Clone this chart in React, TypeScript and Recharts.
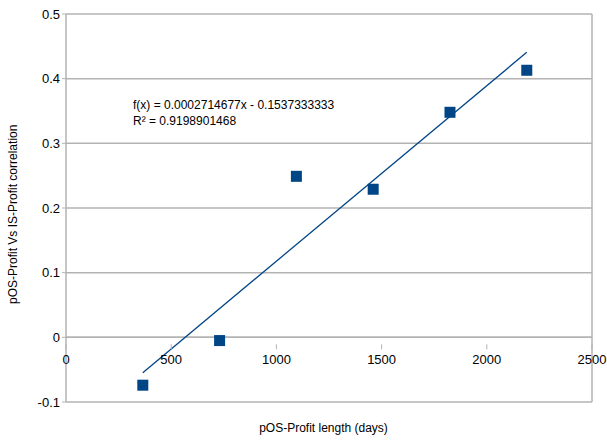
import {
  ScatterChart,
  Scatter,
  XAxis,
  YAxis,
  CartesianGrid,
  ReferenceLine,
} from "recharts";

const lengthDays = [365, 730, 1095, 1460, 1825, 2190];
const correlation = [-0.074, -0.005, 0.249, 0.229, 0.348, 0.413];
const xTicks = [0, 500, 1000, 1500, 2000, 2500];
const yTicks = [-0.1, 0, 0.1, 0.2, 0.3, 0.4, 0.5];

// trend line coefficients as reported on the chart
const slope = 0.0002714677;
const intercept = -0.1537333333;
const r2 = 0.9198901468;

const W = 607;
const H = 444;
const PLOT_TOP = 14;
const PLOT_BOTTOM = 42;
const PLOT_H = H - PLOT_TOP - PLOT_BOTTOM;
// x axis crosses at y = 0, one sixth of the plot height above the bottom
const ZERO_SHIFT = PLOT_H / 6;

const FONT = "'Liberation Sans', Arial, sans-serif";
const BLUE = "#004586";
const GRID = "#b3b3b3";

const points = lengthDays.map((x, i) => ({ x, y: correlation[i] }));
const trend = [lengthDays[0], lengthDays[lengthDays.length - 1]].map((x) => ({
  x,
  y: slope * x + intercept,
}));

function XTick(props: any) {
  const { x, y, payload } = props;
  const y0 = y - ZERO_SHIFT;
  return (
    <g>
      <line x1={x} x2={x} y1={y0 - 1} y2={y0 + 4} stroke={GRID} strokeWidth={1} />
      <text x={x} y={y0 + 19} textAnchor="middle" fontSize={13} fill="#000" fontFamily={FONT}>
        {payload.value}
      </text>
    </g>
  );
}

function Square(props: any) {
  const { cx, cy } = props;
  if (cx == null || cy == null) return null;
  return <rect x={cx - 5.5} y={cy - 5.5} width={11} height={11} fill={BLUE} />;
}

export default function App() {
  return (
    <div style={{ position: "absolute", left: 0, top: 0, width: W, height: H, background: "#fff" }}>
      <ScatterChart
        width={W}
        height={H}
        margin={{ top: PLOT_TOP, right: 15, bottom: PLOT_BOTTOM - 30, left: 0 }}
      >
        <CartesianGrid vertical={false} stroke={GRID} strokeWidth={1.5} />
        <XAxis
          type="number"
          dataKey="x"
          domain={[0, 2500]}
          ticks={xTicks}
          height={30}
          axisLine={false}
          tickLine={false}
          tick={<XTick />}
          interval={0}
        />
        <YAxis
          type="number"
          dataKey="y"
          domain={[-0.1, 0.5]}
          ticks={yTicks}
          width={66}
          interval={0}
          axisLine={{ stroke: GRID, strokeWidth: 1.5 }}
          tickLine={{ stroke: GRID }}
          tickSize={4}
          tick={{ fill: "#000", fontSize: 13, fontFamily: FONT }}
          label={{
            value: "pOS-Profit Vs IS-Profit correlation",
            angle: -90,
            position: "insideLeft",
            dx: 8,
            dy: 96,
            style: { fill: "#000", fontSize: 12, fontFamily: FONT },
          }}
        />
        <ReferenceLine x={2500} stroke={GRID} strokeWidth={1.5} />
        <ReferenceLine y={0} stroke={GRID} strokeWidth={1.5} />
        <Scatter
          data={trend}
          line={{ stroke: BLUE, strokeWidth: 1.3 }}
          shape={() => null}
          isAnimationActive={false}
        />
        <Scatter data={points} shape={<Square />} isAnimationActive={false} />
      </ScatterChart>
      <div
        style={{
          position: "absolute",
          left: 0,
          width: W,
          top: 97,
          paddingLeft: 133,
          boxSizing: "border-box",
          fontFamily: FONT,
          fontSize: 12,
          lineHeight: "16px",
          color: "#000",
          whiteSpace: "nowrap",
        }}
      >
        <div>f(x) = {slope}x - {Math.abs(intercept)}</div>
        <div>R² = {r2}</div>
      </div>
      <div
        style={{
          position: "absolute",
          left: 0,
          width: W,
          top: 421,
          textAlign: "center",
          paddingLeft: 40,
          boxSizing: "border-box",
          fontFamily: FONT,
          fontSize: 12,
          color: "#000",
        }}
      >
        pOS-Profit length (days)
      </div>
    </div>
  );
}
